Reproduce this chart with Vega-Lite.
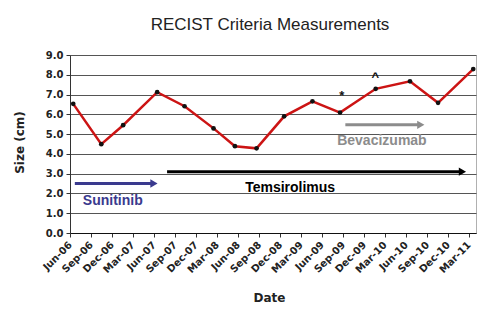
{
  "$schema": "https://vega.github.io/schema/vega-lite/v6.json",
  "width": 406,
  "height": 178,
  "autosize": "none",
  "padding": {"left": 70, "top": 55, "right": 15, "bottom": 76},
  "background": "white",
  "title": {
    "text": "RECIST Criteria Measurements",
    "font": "Liberation Sans",
    "fontSize": 17,
    "fontWeight": "normal",
    "color": "#222222",
    "anchor": "middle",
    "frame": "group",
    "offset": 16,
    "dx": -3
  },
  "config": {
    "view": {"stroke": "#b0b0b0", "strokeWidth": 1},
    "axis": {
      "labelFont": "DejaVu Sans",
      "labelFontWeight": "bold",
      "labelColor": "#222222",
      "titleFont": "DejaVu Sans",
      "titleFontWeight": "bold",
      "titleFontSize": 12,
      "titleColor": "#222222",
      "domainColor": "#333333",
      "tickColor": "#333333",
      "tickSize": 4
    }
  },
  "datasets": {
    "measurements": [
      {"date": "2006-06-15", "size": 6.53},
      {"date": "2006-10-15", "size": 4.49},
      {"date": "2007-01-18", "size": 5.45},
      {"date": "2007-06-15", "size": 7.12},
      {"date": "2007-10-12", "size": 6.41},
      {"date": "2008-02-15", "size": 5.29},
      {"date": "2008-05-18", "size": 4.39},
      {"date": "2008-08-20", "size": 4.28},
      {"date": "2008-12-18", "size": 5.9},
      {"date": "2009-04-20", "size": 6.66},
      {"date": "2009-08-18", "size": 6.09},
      {"date": "2010-01-20", "size": 7.29},
      {"date": "2010-06-18", "size": 7.67},
      {"date": "2010-10-18", "size": 6.58},
      {"date": "2011-03-20", "size": 8.29}
    ],
    "treatments": [
      {"drug": "Sunitinib", "date": "2006-06-22", "end": "2007-06-01", "size": 2.5},
      {"drug": "Temsirolimus", "date": "2007-07-28", "end": "2011-02-01", "size": 3.1},
      {"drug": "Bevacizumab", "date": "2009-09-10", "end": "2010-08-04", "size": 5.47}
    ],
    "arrowheads": [
      {"drug": "Sunitinib", "date": "2007-06-01", "size": 2.5},
      {"drug": "Temsirolimus", "date": "2011-02-01", "size": 3.1},
      {"drug": "Bevacizumab", "date": "2010-08-04", "size": 5.47}
    ],
    "labels": [
      {"drug": "Sunitinib", "date": "2006-12-04", "size": 1.6},
      {"drug": "Temsirolimus", "date": "2009-01-13", "size": 2.27},
      {"drug": "Bevacizumab", "date": "2010-02-16", "size": 4.66}
    ],
    "marks": [
      {"symbol": "*", "date": "2009-08-25", "size": 6.72},
      {"symbol": "^", "date": "2010-01-18", "size": 7.7}
    ]
  },
  "encoding": {
    "x": {
      "field": "date",
      "type": "temporal",
      "title": "Date",
      "scale": {
        "type": "utc",
        "domain": [
          {"year": 2006, "month": 6, "date": 1, "utc": true},
          {"year": 2011, "month": 4, "date": 1, "utc": true}
        ]
      },
      "axis": {
        "values": [
          {"year": 2006, "month": 6, "date": 1, "utc": true},
          {"year": 2006, "month": 9, "date": 1, "utc": true},
          {"year": 2006, "month": 12, "date": 1, "utc": true},
          {"year": 2007, "month": 3, "date": 1, "utc": true},
          {"year": 2007, "month": 6, "date": 1, "utc": true},
          {"year": 2007, "month": 9, "date": 1, "utc": true},
          {"year": 2007, "month": 12, "date": 1, "utc": true},
          {"year": 2008, "month": 3, "date": 1, "utc": true},
          {"year": 2008, "month": 6, "date": 1, "utc": true},
          {"year": 2008, "month": 9, "date": 1, "utc": true},
          {"year": 2008, "month": 12, "date": 1, "utc": true},
          {"year": 2009, "month": 3, "date": 1, "utc": true},
          {"year": 2009, "month": 6, "date": 1, "utc": true},
          {"year": 2009, "month": 9, "date": 1, "utc": true},
          {"year": 2009, "month": 12, "date": 1, "utc": true},
          {"year": 2010, "month": 3, "date": 1, "utc": true},
          {"year": 2010, "month": 6, "date": 1, "utc": true},
          {"year": 2010, "month": 9, "date": 1, "utc": true},
          {"year": 2010, "month": 12, "date": 1, "utc": true},
          {"year": 2011, "month": 3, "date": 1, "utc": true}
        ],
        "labelExpr": "utcFormat(datum.value, '%b-%y')",
        "labelAngle": -45,
        "labelAlign": "right",
        "labelBaseline": "middle",
        "labelFontSize": 10,
        "labelPadding": 6,
        "labelOverlap": false,
        "labelFlush": false,
        "grid": false,
        "domainColor": "#111111",
        "titleY": 64,
        "titleX": 199,
        "titleBaseline": "middle"
      }
    },
    "y": {
      "field": "size",
      "type": "quantitative",
      "title": "Size (cm)",
      "scale": {"domain": [0, 9], "nice": false},
      "axis": {
        "values": [0, 1, 2, 3, 4, 5, 6, 7, 8, 9],
        "format": ".1f",
        "labelFontSize": 10,
        "labelPadding": 3,
        "labelOverlap": false,
        "grid": true,
        "gridColor": "#555555",
        "gridWidth": 1,
        "titleX": -51,
        "titleY": 87,
        "titleAlign": "center",
        "titleBaseline": "middle"
      }
    }
  },
  "layer": [
    {
      "data": {"name": "measurements"},
      "mark": {"type": "line", "color": "#cc1414", "strokeWidth": 2.5}
    },
    {
      "data": {"name": "measurements"},
      "mark": {"type": "point", "filled": true, "color": "#111111", "size": 22, "opacity": 1}
    },
    {
      "data": {"name": "treatments"},
      "mark": {"type": "rule", "strokeWidth": 3},
      "encoding": {
        "x2": {"field": "end"},
        "color": {
          "field": "drug",
          "type": "nominal",
          "scale": {"domain": ["Sunitinib", "Temsirolimus", "Bevacizumab"], "range": ["#3a3a8e", "#000000", "#8c8c8c"]},
          "legend": null
        },
        "strokeWidth": {
          "field": "drug",
          "type": "nominal",
          "scale": {"domain": ["Sunitinib", "Temsirolimus", "Bevacizumab"], "range": [3, 4, 3]},
          "legend": null
        }
      }
    },
    {
      "data": {"name": "arrowheads"},
      "mark": {"type": "point", "shape": "triangle-right", "filled": true, "size": 70, "opacity": 1},
      "encoding": {
        "color": {"field": "drug", "type": "nominal", "legend": null}
      }
    },
    {
      "data": {"name": "labels"},
      "mark": {"type": "text", "font": "Liberation Sans", "fontWeight": "bold", "fontSize": 14, "align": "center", "baseline": "middle"},
      "encoding": {
        "text": {"field": "drug"},
        "color": {"field": "drug", "type": "nominal", "legend": null}
      }
    },
    {
      "data": {"name": "marks"},
      "mark": {"type": "text", "font": "Liberation Sans", "fontWeight": "bold", "fontSize": 13, "align": "center", "baseline": "alphabetic", "color": "#111111"},
      "encoding": {
        "text": {"field": "symbol"}
      }
    }
  ]
}
